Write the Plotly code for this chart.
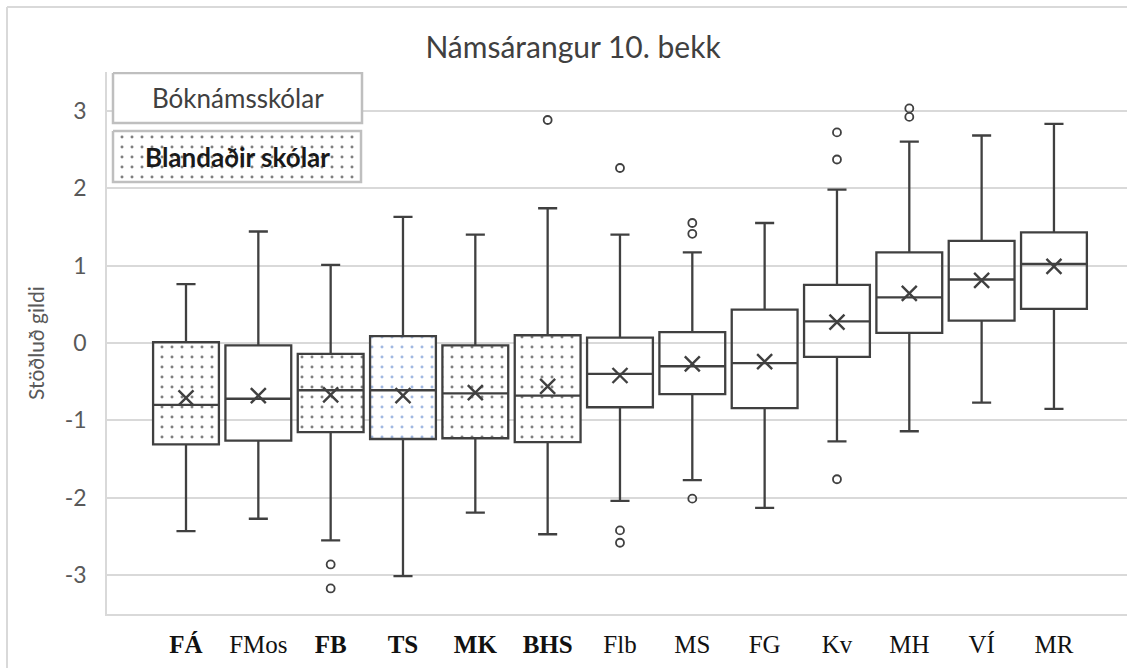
import plotly.graph_objects as go

# ---------------- data ----------------
categories = ["FÁ", "FMos", "FB", "TS", "MK", "BHS", "Flb", "MS", "FG", "Kv", "MH", "VÍ", "MR"]
mixed_schools = ["FÁ", "FB", "TS", "MK", "BHS"]          # "Blandaðir skólar" (bold, dotted)
upper_whisker = [0.76, 1.44, 1.01, 1.63, 1.40, 1.74, 1.40, 1.17, 1.55, 1.98, 2.60, 2.68, 2.83]
q3_values     = [0.01, -0.03, -0.14, 0.09, -0.03, 0.10, 0.07, 0.14, 0.43, 0.75, 1.17, 1.32, 1.43]
median_values = [-0.80, -0.72, -0.61, -0.61, -0.65, -0.68, -0.40, -0.30, -0.26, 0.28, 0.59, 0.82, 1.02]
mean_values   = [-0.71, -0.68, -0.67, -0.68, -0.64, -0.56, -0.42, -0.27, -0.24, 0.27, 0.64, 0.81, 0.99]
q1_values     = [-1.31, -1.26, -1.15, -1.24, -1.23, -1.28, -0.83, -0.66, -0.84, -0.18, 0.13, 0.29, 0.44]
lower_whisker = [-2.43, -2.27, -2.55, -3.01, -2.19, -2.47, -2.04, -1.77, -2.13, -1.27, -1.14, -0.77, -0.85]
outlier_cat = ["FB", "FB", "BHS", "Flb", "Flb", "Flb", "MS", "MS", "MS", "Kv", "Kv", "Kv", "MH", "MH"]
outlier_val = [-2.86, -3.17, 2.88, 2.26, -2.42, -2.58, 1.55, 1.41, -2.01, 2.72, 2.37, -1.76, 3.03, 2.92]
y_ticks = [-3, -2, -1, 0, 1, 2, 3]
y_tick_labels = ["-3", "-2", "-1", "0", "1", "2", "3"]
title_text = "Námsárangur 10. bekk"
y_title = "Stöðluð gildi"
legend_labels = ["Bóknámsskólar", "Blandaðir skólar"]

# ---------------- styling ----------------
W, H = 1127, 668
L, R, T, B = 107, 0, 72, 54
DARK = "#404040"
GRID = "#d9d9d9"
BOXW = 0.91
DOTS = dict(shape=".", size=10, solidity=0.07, bgcolor="white")

tick_text = ["<b>%s</b>" % c if c in mixed_schools else c for c in categories]

fig = go.Figure()

# dotted fill for mixed schools (bars spanning q1..q3)
pat_idx = [i for i, c in enumerate(categories) if c in mixed_schools]
fig.add_trace(go.Bar(
    x=[categories[i] for i in pat_idx],
    y=[q3_values[i] - q1_values[i] for i in pat_idx],
    base=[q1_values[i] for i in pat_idx],
    width=BOXW,
    marker=dict(color="white", line=dict(width=0),
                pattern=dict(DOTS, fgcolor=["#4472c4" if categories[i] == "TS" else "#000000" for i in pat_idx])),
    hoverinfo="skip", showlegend=False,
))

fig.add_trace(go.Box(
    x=categories, q1=q1_values, median=median_values, q3=q3_values,
    lowerfence=lower_whisker, upperfence=upper_whisker,
    boxpoints=False, width=BOXW, whiskerwidth=0.29,
    fillcolor="rgba(0,0,0,0)", line=dict(color=DARK, width=2.3),
    showlegend=False,
))

fig.add_trace(go.Scatter(
    x=categories, y=mean_values, mode="markers",
    marker=dict(symbol="x-thin", size=15, color=DARK, line=dict(width=2.4, color=DARK)),
    showlegend=False, hoverinfo="skip",
))

fig.add_trace(go.Scatter(
    x=outlier_cat, y=outlier_val, mode="markers",
    marker=dict(symbol="circle-open", size=8, color=DARK, line=dict(width=1.8, color=DARK)),
    showlegend=False,
))

# legend boxes on an overlay pixel-coordinate axis pair
lg_boxes = [(113, 362, 73, 123), (113, 361, 131, 182)]
for k, (x0, x1, y0, y1) in enumerate(lg_boxes):
    kw = dict(fill="toself", fillcolor="white")
    if k == 1:
        kw["fillpattern"] = dict(DOTS, fgcolor="#000000")
    fig.add_trace(go.Scatter(
        x=[x0, x1, x1, x0, x0], y=[y0, y0, y1, y1, y0], mode="lines",
        line=dict(color="#bfbfbf", width=2.5), xaxis="x2", yaxis="y2",
        showlegend=False, hoverinfo="skip", **kw,
    ))
    fig.add_annotation(
        x=(x0 + x1) / 2, y=(y0 + y1) / 2, xref="x2", yref="y2",
        text=legend_labels[k] if k == 0 else "<b>%s</b>" % legend_labels[k],
        showarrow=False, font=dict(family="Lato", size=26, color=DARK if k == 0 else "#1a1a1a"),
    )

plot_w = W - L - R
plot_h = H - T - B

fig.add_annotation(
    x=(35 - L) / plot_w, y=0.5, xref="paper", yref="paper", text=y_title,
    textangle=-90, showarrow=False, xanchor="center", yanchor="middle",
    font=dict(family="Lato", size=21, color="#595959"),
)

# outer chart border (only left and top edges are inside the picture)
bx = (7 - L) / plot_w
by = (H - B - 7) / plot_h
fig.add_shape(type="line", xref="paper", yref="paper", x0=bx, x1=bx, y0=-0.2, y1=by,
              line=dict(color=GRID, width=2), layer="below")
fig.add_shape(type="line", xref="paper", yref="paper", x0=bx, x1=1.0, y0=by, y1=by,
              line=dict(color=GRID, width=2), layer="below")

first_c, spacing = 186.0, 72.33
fig.update_layout(
    width=W, height=H,
    margin=dict(l=L, r=R, t=T, b=B),
    paper_bgcolor="white", plot_bgcolor="white",
    title=dict(text=title_text, x=573 / W, xref="container", y=1 - 47 / H, yref="container",
               xanchor="center", yanchor="middle",
               font=dict(family="Lato", size=30, color=DARK)),
    xaxis=dict(type="category", categoryorder="array", categoryarray=categories,
               tickvals=categories, ticktext=tick_text,
               range=[(L - first_c) / spacing, (W - R - first_c) / spacing],
               showgrid=False, showline=True, linecolor=GRID, linewidth=2,
               ticks="", ticklabelstandoff=7,
               tickfont=dict(family="Liberation Serif", size=25, color="#111111")),
    yaxis=dict(range=[-3.5, 3.5], tickvals=y_ticks, ticktext=y_tick_labels,
               showgrid=True, gridcolor=GRID, gridwidth=1.5,
               zeroline=False, showline=True, linecolor=GRID, linewidth=1.5,
               ticks="", ticklabelstandoff=14,
               tickfont=dict(family="Lato", size=23, color="#595959")),
    xaxis2=dict(overlaying="x", anchor="y2", range=[L, W - R], visible=False),
    yaxis2=dict(overlaying="y", anchor="x2", range=[H - B, T], visible=False),
    bargap=0,
)

fig.write_html(
    "out.html", config={"displayModeBar": False},
    post_script=("document.documentElement.style.overflow='hidden';"
                 "document.body.style.margin='0';document.body.style.overflow='hidden';"),
)
